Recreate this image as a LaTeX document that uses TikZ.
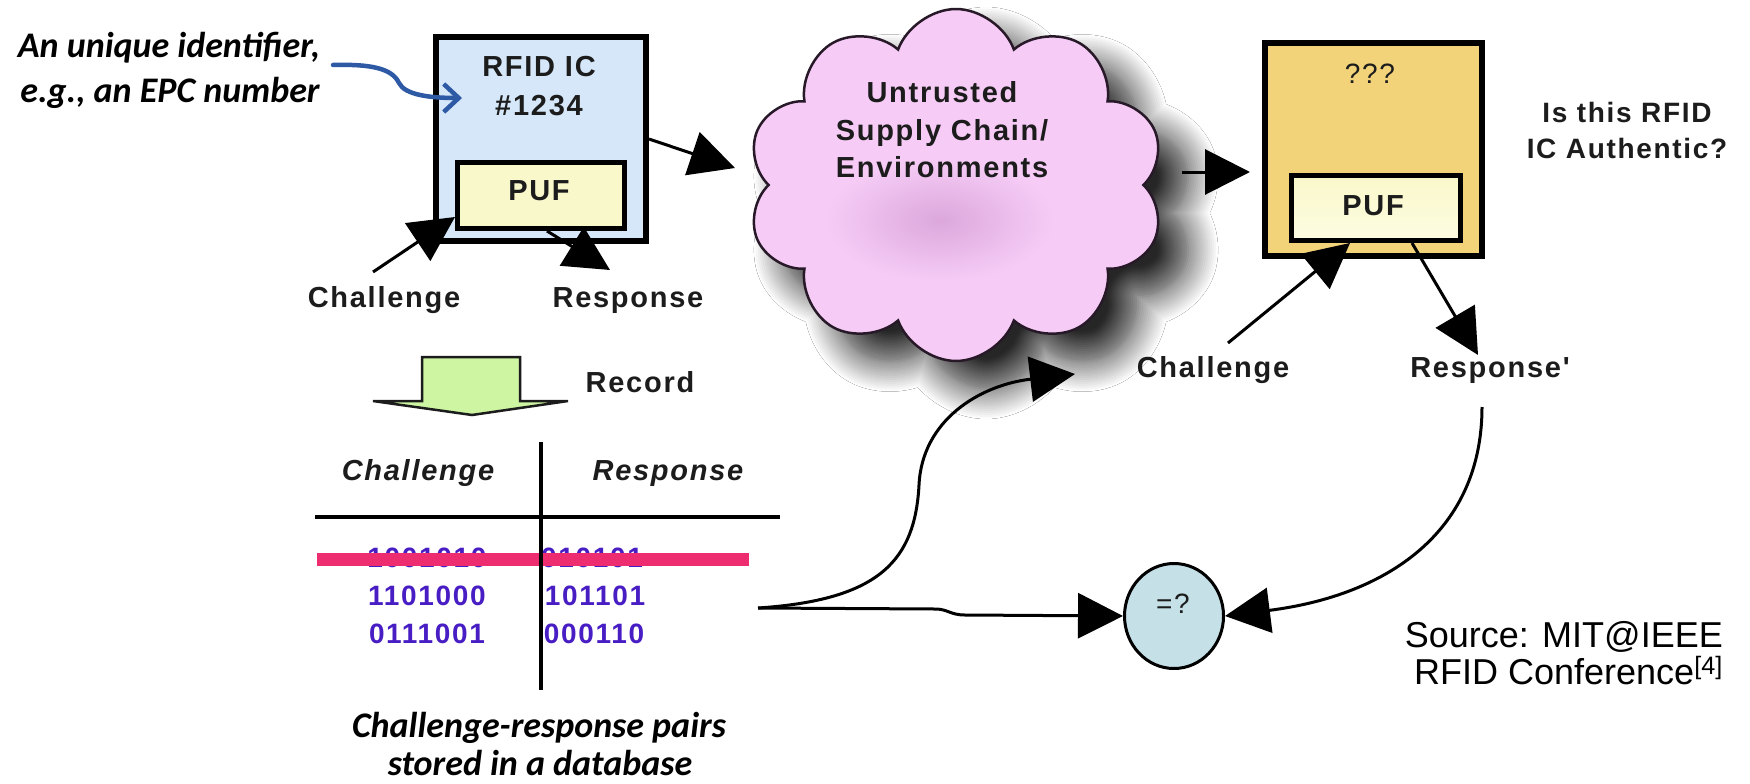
\documentclass[tikz,border=0pt]{standalone}
\usepackage{fontspec}
\setmainfont{Liberation Sans}
\newfontfamily\diagfont{Liberation Sans}[LetterSpace=6]
\newfontfamily\srcfont{Liberation Sans}
\newfontfamily\notefont{Carlito}
\usetikzlibrary{arrows.meta,shapes.symbols,shapes.geometric,shadows.blur,calc}

\definecolor{chipblue}{RGB}{213,231,248}
\definecolor{pufyellow}{RGB}{249,248,202}
\definecolor{pufyellowB}{RGB}{253,252,226}
\definecolor{suspectgold}{RGB}{242,211,122}
\definecolor{cloudpink}{RGB}{246,204,246}
\definecolor{cloudcore}{RGB}{220,168,220}
\definecolor{cloudline}{RGB}{40,25,40}
\definecolor{recordgreen}{RGB}{205,245,162}
\definecolor{bitviolet}{RGB}{72,30,196}
\definecolor{strikepink}{RGB}{238,45,112}
\definecolor{notecolor}{RGB}{46,89,165}
\definecolor{cmpblue}{RGB}{197,224,230}
\definecolor{inkdark}{RGB}{28,28,28}

\begin{document}
\begin{tikzpicture}[x=1pt,y=-1pt,
  chip/.style={draw=black, rectangle, inner sep=0pt, line width=6pt},
  pufbox/.style={draw=black, rectangle, inner sep=0pt, line width=5pt},
  lbl/.style={font=\diagfont\bfseries\fontsize{29}{34}\selectfont, text=inkdark, inner sep=0pt, anchor=base},
  asklbl/.style={lbl, font=\diagfont\bfseries\fontsize{28}{33}\selectfont},
  plainlbl/.style={font=\diagfont\fontsize{28}{33}\selectfont, text=inkdark, inner sep=0pt, anchor=base},
  bitlbl/.style={font=\diagfont\bfseries\fontsize{28}{33}\selectfont, text=bitviolet, inner sep=0pt, anchor=base},
  colhead/.style={font=\diagfont\bfseries\itshape\fontsize{29}{34}\selectfont, text=inkdark, inner sep=0pt, anchor=base},
  notelbl/.style={font=\notefont\bfseries\itshape\fontsize{36}{44}\selectfont, text=black, inner sep=0pt, anchor=base},
  srclbl/.style={font=\srcfont\fontsize{36}{42}\selectfont, text=black, inner sep=0pt, anchor=base east},
  flow/.style={draw=black, line width=3pt, -{Triangle[length=45pt,width=45pt]}},
]
\useasboundingbox (0,0) rectangle (1750,784);
\fill[white] (0,0) rectangle (1750,784);

% ---------- annotation at the top left ----------
\node[notelbl] (noteA) at (169,58) {An unique identifier,};
\node[notelbl] (noteB) at (170,102) {e.g., an EPC number};

% ---------- genuine RFID chip ----------
\node[chip, fill=chipblue, minimum width=210pt, minimum height=204pt] (rfid) at (541,139) {};
\node[lbl] (rfidName) at (539,77) {RFID IC};
\node[lbl] (rfidNum) at (539,115) {\#1234};
\node[pufbox, fill=pufyellow, minimum width=167pt, minimum height=66pt] (pufL) at (541,195.5) {};
\node[lbl] (pufLtxt) at (539,200) {PUF};
\node[lbl] (chL) at (384,307) {Challenge};
\node[lbl] (respL) at (628,307) {Response};

\coordinate (noteStart) at (333,65);
\coordinate (noteTip) at (462,98);
\draw[notecolor, line width=4.5pt, line cap=round, -{Straight Barb[length=15pt,width=28pt]}]
  (noteStart) .. controls (370,64) and (392,68) .. (399,83)
  .. controls (405,95) and (430,98) .. (noteTip);

\coordinate (chLtail) at (373,272);
\coordinate (respLtip) at (610,270);
\draw[flow] (chLtail) -- ([yshift=14pt]pufL.south west);
\draw[flow] ([xshift=6pt]pufL.south) -- (respLtip);

% ---------- untrusted supply chain ----------
\node[cloud, draw=cloudline, line width=2.5pt, fill=cloudpink, cloud puffs=10,
      cloud puff arc=140, aspect=1.18, minimum width=418pt, minimum height=352pt,
      inner sep=0pt,
      blur shadow={shadow xshift=30pt, shadow yshift=-28pt, shadow blur radius=30pt,
                   shadow opacity=85, shadow blur steps=16}] (cloud) at (956,185) {};
\shade[inner color=cloudcore, outer color=cloudpink] (940,220) ellipse [x radius=115pt, y radius=62pt];
\node[lbl] (cl1) at (942,102) {Untrusted};
\node[lbl] (cl2) at (942,140) {Supply Chain/};
\node[lbl] (cl3) at (942,177) {Environments};

\coordinate (cloudIn) at (735,168);
\coordinate (cloudOut) at (1182,172);
\draw[flow] (rfid.east) -- (cloudIn);

% ---------- chip under test ----------
\node[chip, fill=suspectgold, minimum width=217pt, minimum height=213pt] (qbox) at (1373.5,149.5) {};
\node[plainlbl] (qtxt) at (1370,83) {???};
\node[pufbox, top color=pufyellow, bottom color=pufyellowB, minimum width=169pt, minimum height=65pt] (pufR) at (1376,208) {};
\node[lbl] (pufRtxt) at (1373,215) {PUF};
\node[asklbl] (ask1) at (1627,122) {Is this RFID};
\node[asklbl] (ask2) at (1627,158) {IC Authentic?};
\node[lbl] (chR) at (1213,377) {Challenge};
\node[lbl] (respR) at (1490,377) {Response'};

\draw[flow, shorten >=12pt] (cloudOut) -- (cloudOut -| qbox.west);

\coordinate (chRtail) at (1228,343);
\coordinate (respRtip) at (1478,355);
\draw[flow] (chRtail) -- ([xshift=-26pt]pufR.south);
\draw[flow] ([xshift=36pt]pufR.south) -- (respRtip);

% ---------- recording step ----------
\draw[line width=2.5pt, draw=inkdark, fill=recordgreen, line join=miter]
  (422,357) -- (520,357) -- (520,401) -- (568,401) -- (472,415) -- (373,401) -- (422,401) -- cycle;
\node[lbl] (record) at (640,392) {Record};

% ---------- challenge-response table ----------
\node[colhead] (hdrC) at (418,480) {Challenge};
\node[colhead] (hdrR) at (668,480) {Response};
\node[bitlbl] (c1) at (427,567) {1001010};
\node[bitlbl] (r1) at (592,567) {010101};
\node[bitlbl] (c2) at (427,605) {1101000};
\node[bitlbl] (r2) at (595,605) {101101};
\node[bitlbl] (c3) at (427,643) {0111001};
\node[bitlbl] (r3) at (594,643) {000110};
\fill[strikepink] (317,553) rectangle (749,566);
\draw[line width=4pt] (315,517) -- (780,517);
\draw[line width=4pt] (541,442) -- (541,690);

\node[notelbl] (cap1) at (539,737) {Challenge-response pairs};
\node[notelbl] (cap2) at (540,775) {stored in a database};

% ---------- comparison ----------
\node[ellipse, draw=black, line width=3pt, fill=cmpblue, inner sep=0pt,
      minimum width=99pt, minimum height=105pt] (eq) at (1174,616) {};
\node[plainlbl] (eqtxt) at (1173,613) {=?};

\coordinate (tabOut) at (758,608);
\coordinate (chRtip) at (1075,374);
\coordinate (respRout) at (1482,407);
\draw[flow] (tabOut) .. controls (880,600) and (915,560) .. (919,485)
  .. controls (922,420) and (980,385) .. (chRtip);
\draw[flow] (tabOut) -- (935,609) .. controls (948,609) and (950,615) .. (965,615) -- (eq.west);
\draw[flow] (respRout) .. controls (1482,530) and (1390,595) .. (eq.east);

% ---------- source ----------
\node[srclbl] (src1) at (1723,647) {Source: MIT@IEEE};
\node[srclbl] (src2) at (1723,684) {RFID Conference\textsuperscript{[4]}};
\end{tikzpicture}
\end{document}
